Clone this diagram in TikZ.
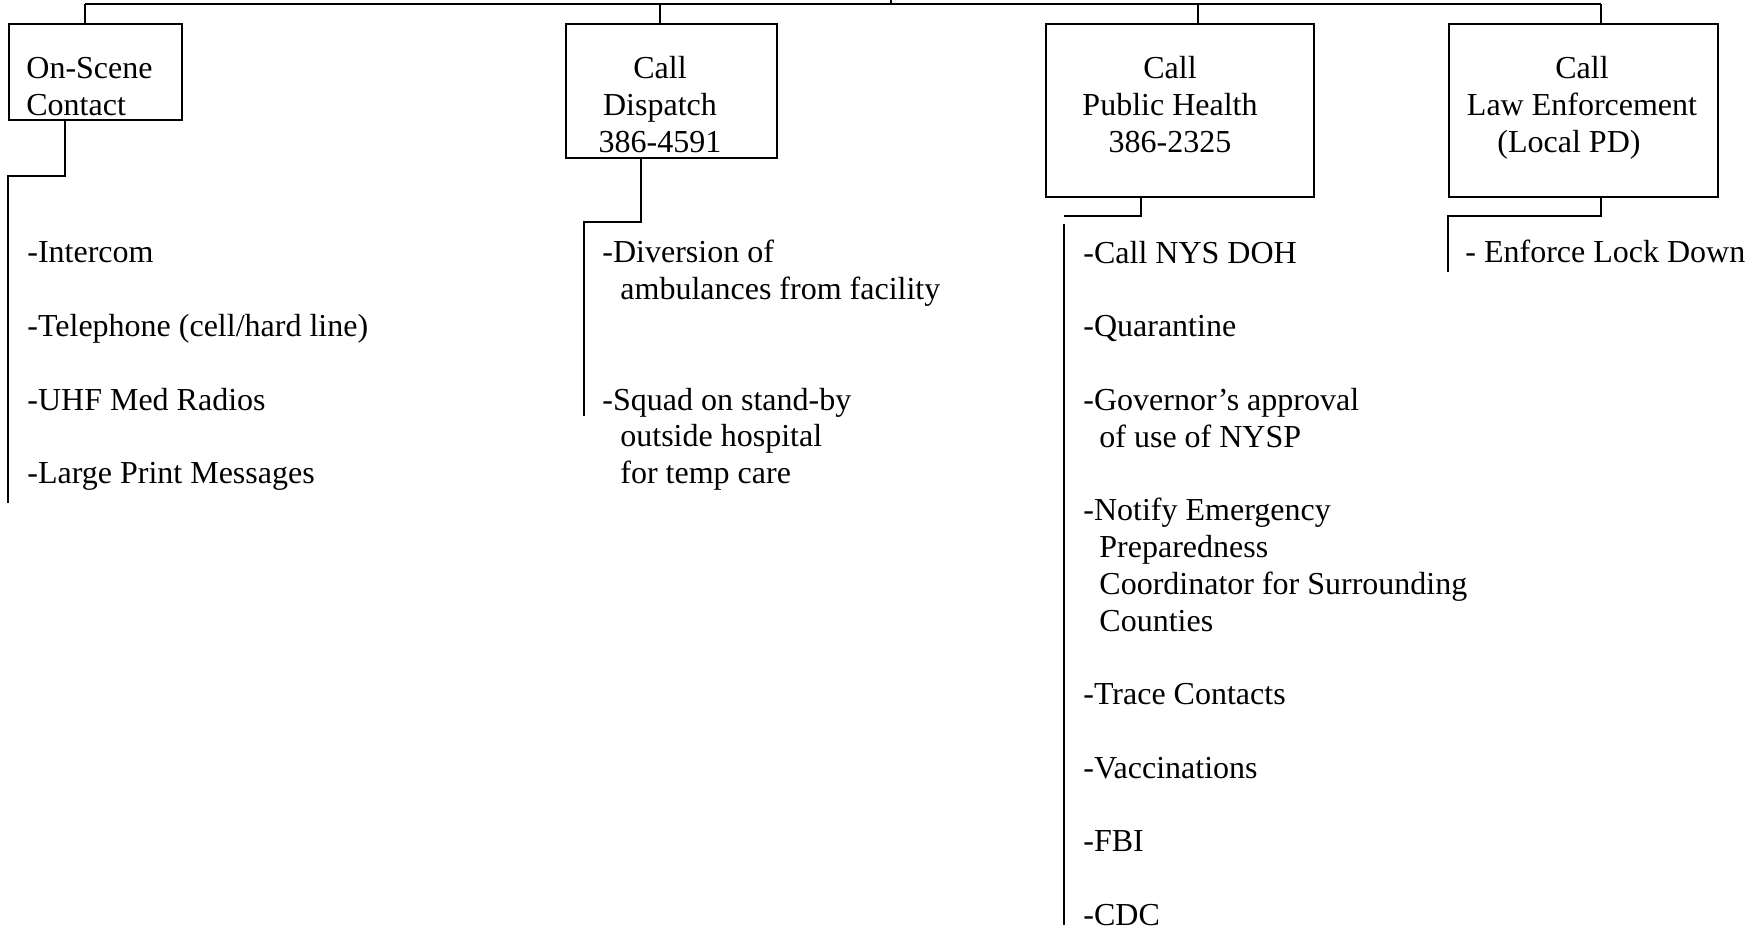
\documentclass[tikz,border=0pt]{standalone}
\usepackage{fontspec}
\setmainfont{Liberation Serif}
\begin{document}
\begin{tikzpicture}[x=0.5pt, y=-0.5pt, font={\fontsize{16}{18.4}\selectfont}]
        \tikzstyle{unit}=[draw, line width=0.9pt, shape=rectangle, anchor=north west, inner sep=0pt]
        \tikzstyle{head}=[anchor=base, align=center, inner sep=0pt]
        \tikzstyle{list}=[anchor=base west, align=left, inner sep=0pt]
        \tikzstyle{wire}=[line width=0.65pt]

        \useasboundingbox (0,0) rectangle (1758,930);

        % boxes
        \node[unit, minimum width=86.5pt, minimum height=48pt](scene) at (8,23){};
        \node[unit, minimum width=105.5pt, minimum height=67pt](dispatch) at (565,23){};
        \node[unit, minimum width=134pt, minimum height=86.5pt](health) at (1045,23){};
        \node[unit, minimum width=134.5pt, minimum height=86.5pt](police) at (1448,23){};

        % box texts (placed by their last line)
        \node[head, anchor=base west, align=left](scenet) at (26,115.8){On-Scene\\Contact};
        \node[head](dispatcht) at (660,152.6){Call\\Dispatch\\386-4591};
        \node[head](healtht) at (1170,152.6){Call\\Public Health\\386-2325};
        \node[head](policet) at (1582,152.6){Call\\Law Enforcement\\(Local PD)\hspace*{13pt}};

        % lists
        \node[list](scenel) at (27,483.8){-Intercom\\[18.4pt]-Telephone (cell/hard line)\\[18.4pt]-UHF Med Radios\\[18.4pt]-Large Print Messages};
        \node[list](dispatchl) at (602,483.8){-Diversion of\\\hspace*{9pt}ambulances from facility\\[36.8pt]-Squad on stand-by\\\hspace*{9pt}outside hospital\\\hspace*{9pt}for temp care};
        \node[list](healthl) at (1083,925.4){-Call NYS DOH\\[18.4pt]-Quarantine\\[18.4pt]-Governor’s approval\\\hspace*{8pt}of use of NYSP\\[18.4pt]-Notify Emergency\\\hspace*{8pt}Preparedness\\\hspace*{8pt}Coordinator for Surrounding\\\hspace*{8pt}Counties\\[18.4pt]-Trace Contacts\\[18.4pt]-Vaccinations\\[18.4pt]-FBI\\[18.4pt]-CDC};
        \node[list](policel) at (1465,263){- Enforce Lock Down};

        \coordinate (root) at (891,0);
        \coordinate (j1) at (85,4);
        \coordinate (j2) at (660,4);
        \coordinate (j3) at (1198,4);
        \coordinate (j4) at (1601,4);

        \draw[wire] (root) -- (root |- j1);
        \draw[wire] (j1) -- (j4);
        \draw[wire] (j1) -- (j1 |- scene.north);
        \draw[wire] (j2) -- (j2 |- dispatch.north);
        \draw[wire] (j3) -- (j3 |- health.north);
        \draw[wire] (j4) -- (j4 |- police.north);

        \coordinate (k1) at (65,176);
        \coordinate (e1) at (8,503);
        \coordinate (k2) at (641,222);
        \coordinate (e2) at (584,416);
        \coordinate (k3) at (1141,216);
        \coordinate (e3) at (1064,216);
        \coordinate (r3) at (1064,224);
        \coordinate (f3) at (1064,925);
        \coordinate (k4) at (1601,216);
        \coordinate (e4) at (1448,272);

        \draw[wire] (scene.south -| k1) -- (k1) -| (e1);
        \draw[wire] (dispatch.south -| k2) -- (k2) -| (e2);
        \draw[wire] (health.south -| k3) -- (k3) -- (e3);
        \draw[wire] (r3) -- (f3);
        \draw[wire] (police.south -| k4) -- (k4) -| (e4);

        \end{tikzpicture}
\end{document}
